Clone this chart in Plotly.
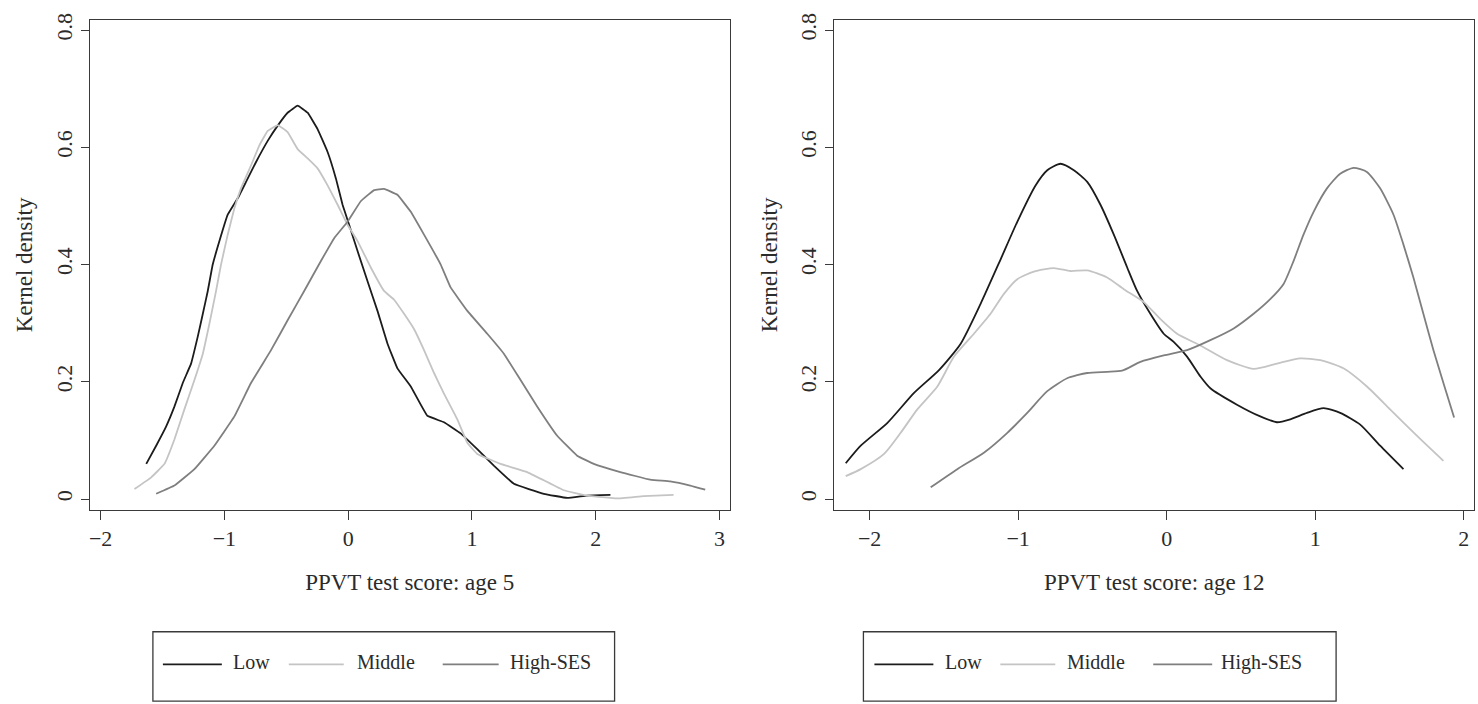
import plotly.graph_objects as go

# ---------------- data ----------------
series_names = ["Low", "Middle", "High-SES"]
series_colors = ["#1c1c1c", "#c4c4c4", "#7f7f7f"]

# Age 5 panel
age5_low_x = [-1.631, -1.551, -1.47, -1.403, -1.336, -1.269, -1.215, -1.174, -1.134, -1.094, -1.04, -0.973,
              -0.892, -0.825, -0.744, -0.65, -0.569, -0.489, -0.408, -0.327, -0.247, -0.166, -0.099, -0.045,
              0.008, 0.076, 0.156, 0.237, 0.318, 0.398, 0.506, 0.64, 0.774, 0.909, 1.043, 1.177, 1.339,
              1.581, 1.769, 1.931, 2.119]
age5_low_y = [0.060, 0.091, 0.124, 0.158, 0.198, 0.231, 0.277, 0.316, 0.355, 0.400, 0.440, 0.485,
              0.513, 0.541, 0.575, 0.611, 0.637, 0.659, 0.671, 0.659, 0.631, 0.592, 0.547, 0.502,
              0.468, 0.423, 0.372, 0.321, 0.265, 0.223, 0.192, 0.142, 0.131, 0.112, 0.085, 0.057, 0.026,
              0.009, 0.002, 0.006, 0.007]

age5_mid_x = [-1.726, -1.591, -1.484, -1.403, -1.323, -1.242, -1.174, -1.121, -1.067, -1.027, -0.973, -0.919,
              -0.866, -0.785, -0.718, -0.65, -0.569, -0.489, -0.408, -0.327, -0.247, -0.166, -0.085, -0.005,
              0.076, 0.183, 0.29, 0.371, 0.452, 0.532, 0.613, 0.694, 0.774, 0.882, 0.963, 1.043, 1.231,
              1.446, 1.581, 1.742, 1.931, 2.173, 2.387, 2.629]
age5_mid_y = [0.017, 0.037, 0.060, 0.102, 0.153, 0.203, 0.248, 0.299, 0.355, 0.400, 0.451, 0.496,
              0.530, 0.569, 0.603, 0.628, 0.638, 0.626, 0.597, 0.581, 0.564, 0.535, 0.502, 0.468,
              0.440, 0.395, 0.355, 0.340, 0.316, 0.290, 0.254, 0.215, 0.180, 0.136, 0.096, 0.077, 0.060,
              0.046, 0.032, 0.015, 0.006, 0.001, 0.005, 0.007]

age5_high_x = [-1.551, -1.403, -1.242, -1.081, -0.919, -0.785, -0.623, -0.489, -0.355, -0.22, -0.113, -0.005,
               0.102, 0.21, 0.29, 0.398, 0.506, 0.613, 0.748, 0.828, 0.963, 1.124, 1.258, 1.393, 1.527,
               1.689, 1.85, 1.984, 2.199, 2.441, 2.602, 2.764, 2.885]
age5_high_y = [0.009, 0.023, 0.051, 0.091, 0.141, 0.198, 0.254, 0.305, 0.355, 0.406, 0.445, 0.473,
               0.508, 0.527, 0.529, 0.519, 0.490, 0.451, 0.400, 0.361, 0.321, 0.282, 0.248, 0.203, 0.158,
               0.108, 0.074, 0.060, 0.046, 0.033, 0.030, 0.023, 0.016]

# Age 12 panel
age12_low_x = [-2.161, -2.06, -1.88, -1.701, -1.533, -1.387, -1.253, -1.118, -1.006, -0.883, -0.804, -0.715,
               -0.625, -0.535, -0.446, -0.356, -0.266, -0.199, -0.11, -0.02, 0.047, 0.137, 0.227, 0.294,
               0.473, 0.63, 0.742, 0.832, 0.944, 1.056, 1.168, 1.303, 1.437, 1.594]
age12_low_y = [0.061, 0.091, 0.130, 0.181, 0.220, 0.265, 0.333, 0.409, 0.473, 0.535, 0.561, 0.572,
               0.561, 0.541, 0.502, 0.451, 0.395, 0.355, 0.316, 0.282, 0.268, 0.243, 0.209, 0.189,
               0.161, 0.141, 0.131, 0.136, 0.147, 0.155, 0.147, 0.127, 0.091, 0.051]

age12_mid_x = [-2.161, -2.06, -1.903, -1.791, -1.679, -1.544, -1.432, -1.298, -1.186, -1.096, -1.006, -0.894,
               -0.76, -0.648, -0.535, -0.401, -0.289, -0.155, -0.042, 0.07, 0.227, 0.406, 0.585, 0.742,
               0.899, 1.034, 1.19, 1.348, 1.504, 1.684, 1.863]
age12_mid_y = [0.039, 0.051, 0.077, 0.113, 0.153, 0.192, 0.243, 0.282, 0.316, 0.350, 0.375, 0.388,
               0.394, 0.389, 0.390, 0.378, 0.358, 0.336, 0.307, 0.282, 0.262, 0.237, 0.222, 0.231,
               0.240, 0.237, 0.223, 0.192, 0.153, 0.108, 0.065]

age12_high_x = [-1.589, -1.41, -1.231, -1.073, -0.939, -0.804, -0.67, -0.535, -0.401, -0.3, -0.177, -0.02,
                0.137, 0.294, 0.451, 0.585, 0.697, 0.787, 0.854, 0.921, 0.989, 1.079, 1.168, 1.258,
                1.348, 1.437, 1.527, 1.594, 1.661, 1.728, 1.796, 1.863, 1.935]
age12_high_y = [0.020, 0.051, 0.079, 0.113, 0.147, 0.184, 0.206, 0.215, 0.217, 0.219, 0.234, 0.245,
                0.254, 0.271, 0.291, 0.316, 0.341, 0.367, 0.406, 0.451, 0.490, 0.530, 0.555, 0.565,
                0.558, 0.530, 0.485, 0.434, 0.378, 0.316, 0.254, 0.198, 0.139]

x_titles = ["PPVT test score: age 5", "PPVT test score: age 12"]
y_title = "Kernel density"
y_ticks = [0, 0.2, 0.4, 0.6, 0.8]
y_ticklabels = ["0", "0.2", "0.4", "0.6", "0.8"]
x_ticks_age5 = [-2, -1, 0, 1, 2, 3]
x_ticks_age12 = [-2, -1, 0, 1, 2]

# ---------------- layout helpers ----------------
W, H = 1478, 704
FONT = "Liberation Serif, Times New Roman, serif"
TXT = "#2b2b2b"
FRAME = "#3a3a3a"
TICK_SIZE = 22
TITLE_SIZE = 23
LEG_SIZE = 20


def fx(px):
    return px / W


def fy(py):
    return 1 - py / H


fig = go.Figure()

panels = [
    ("x", "y", [(age5_low_x, age5_low_y), (age5_mid_x, age5_mid_y), (age5_high_x, age5_high_y)], 0.25),
    ("x2", "y2", [(age12_low_x, age12_low_y), (age12_mid_x, age12_mid_y), (age12_high_x, age12_high_y)], 0.6),
]
for xa, ya, data, smooth in panels:
    for (xs, ys), name, col in zip(data, series_names, series_colors):
        fig.add_trace(go.Scatter(x=xs, y=ys, mode="lines", name=name, xaxis=xa, yaxis=ya,
                                 line=dict(color=col, width=1.8, shape="spline", smoothing=smooth),
                                 showlegend=False, hoverinfo="skip"))

axis_common = dict(showgrid=False, zeroline=False, showline=True, mirror=True,
                   linecolor=FRAME, linewidth=1.3, ticks="outside", tickcolor=FRAME,
                   tickwidth=1.3, tickfont=dict(family=FONT, size=TICK_SIZE, color=TXT))
title_font = dict(family=FONT, size=TITLE_SIZE, color=TXT)

ydom = [fy(508), fy(13)]
fig.update_layout(
    width=W, height=H,
    margin=dict(l=0, r=0, t=0, b=0),
    paper_bgcolor="white", plot_bgcolor="white",
    font=dict(family=FONT, size=20, color=TXT),
    showlegend=False,
    xaxis=dict(axis_common, domain=[fx(89), fx(729)], range=[-2.086, 3.081], tickvals=x_ticks_age5,
               ticklen=9, anchor="y",
               title=dict(text=x_titles[0], font=title_font, standoff=23)),
    yaxis=dict(axis_common, domain=ydom, range=[-0.0186, 0.8174], tickvals=y_ticks, ticktext=y_ticklabels,
               tickangle=-90, ticklen=8, anchor="x",
               title=dict(text=y_title, font=title_font, standoff=12)),
    xaxis2=dict(axis_common, domain=[fx(834), fx(1474)], range=[-2.237, 2.069], tickvals=x_ticks_age12,
                ticklen=9, anchor="y2",
                title=dict(text=x_titles[1], font=title_font, standoff=23)),
    yaxis2=dict(axis_common, domain=ydom, range=[-0.0186, 0.8174], tickvals=y_ticks, ticktext=y_ticklabels,
                tickangle=-90, ticklen=8, anchor="x2",
                title=dict(text=y_title, font=title_font, standoff=12)),
)

# ---------------- manual legends (one box under each panel) ----------------
legend_specs = [
    # box left, box right, [(line_x0, line_x1, text_x), ...]
    (152, 614, [(162, 221, 230), (288, 343, 354), (442, 498, 507)]),
    (863, 1336, [(874, 933, 943), (1000, 1055, 1065), (1153, 1212, 1219)]),
]
box_top, box_bot, item_y = 631, 701, 664
shapes = []
annotations = []
for bl, br, items in legend_specs:
    shapes.append(dict(type="rect", xref="paper", yref="paper", x0=fx(bl), x1=fx(br),
                       y0=fy(box_bot), y1=fy(box_top), line=dict(color=FRAME, width=1.3)))
    for (lx0, lx1, tx), name, col in zip(items, series_names, series_colors):
        shapes.append(dict(type="line", xref="paper", yref="paper", x0=fx(lx0), x1=fx(lx1),
                           y0=fy(item_y), y1=fy(item_y), line=dict(color=col, width=1.8)))
        annotations.append(dict(xref="paper", yref="paper", x=fx(tx), y=fy(item_y - 2), text=name,
                                showarrow=False, xanchor="left", yanchor="middle",
                                font=dict(family=FONT, size=LEG_SIZE, color=TXT)))
fig.update_layout(shapes=shapes, annotations=annotations)

fig.write_html("out.html")
